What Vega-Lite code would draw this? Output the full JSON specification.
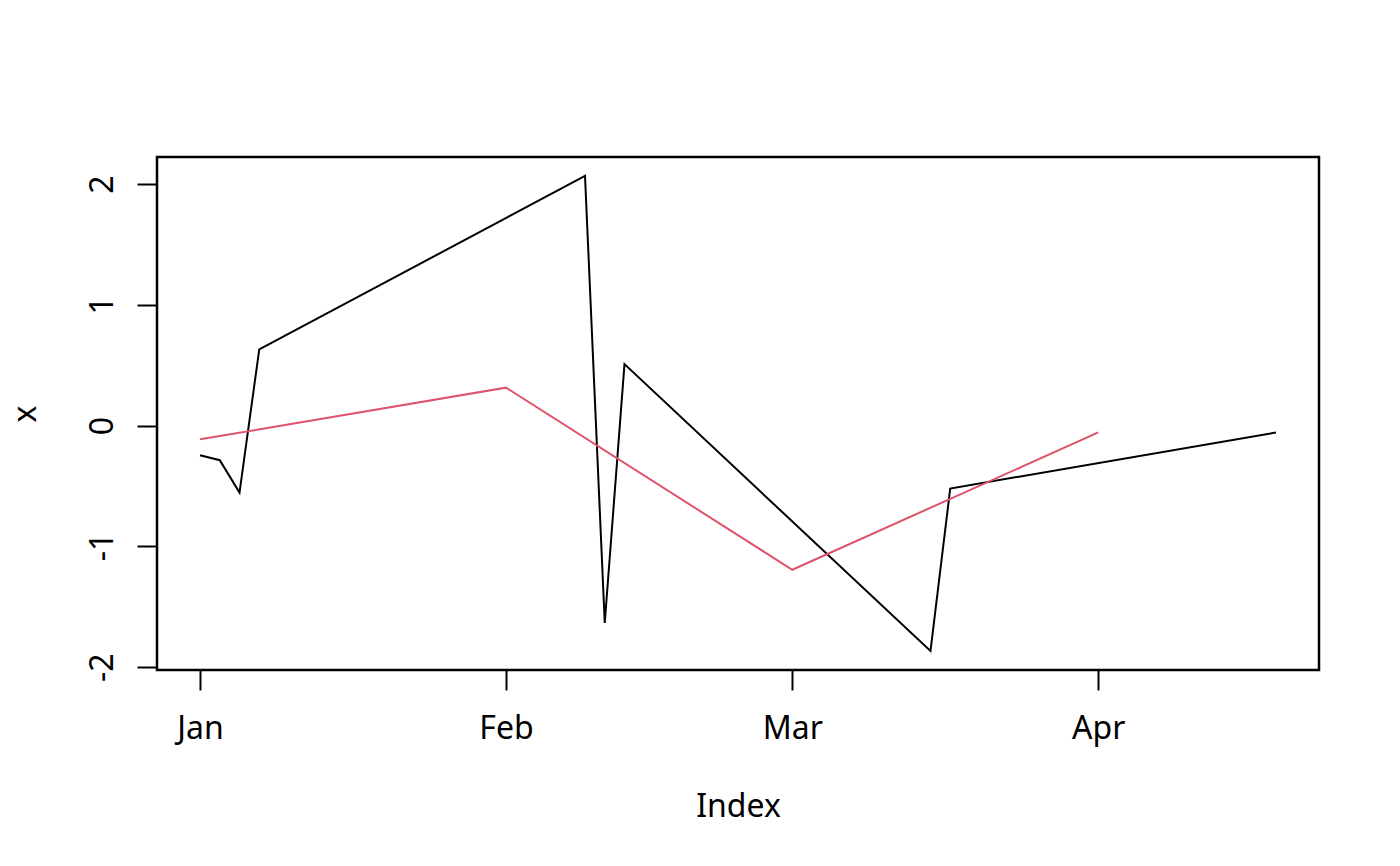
{
  "$schema": "https://vega.github.io/schema/vega-lite/v6.json",
  "description": "Daily series x with its monthly means, R base-graphics style",
  "width": 1162,
  "height": 513,
  "autosize": {"type": "none"},
  "padding": {"left": 157, "top": 157, "right": 81, "bottom": 196},
  "background": "white",
  "data": {
    "values": [
      {"date": "2020-01-01", "value": -0.245, "series": "x"},
      {"date": "2020-01-03", "value": -0.286, "series": "x"},
      {"date": "2020-01-05", "value": -0.554, "series": "x"},
      {"date": "2020-01-07", "value": 0.632, "series": "x"},
      {"date": "2020-02-09", "value": 2.068, "series": "x"},
      {"date": "2020-02-11", "value": -1.634, "series": "x"},
      {"date": "2020-02-13", "value": 0.51, "series": "x"},
      {"date": "2020-03-15", "value": -1.866, "series": "x"},
      {"date": "2020-03-17", "value": -0.52, "series": "x"},
      {"date": "2020-04-19", "value": -0.056, "series": "x"},
      {"date": "2020-01-01", "value": -0.113, "series": "monthly"},
      {"date": "2020-02-01", "value": 0.315, "series": "monthly"},
      {"date": "2020-03-01", "value": -1.193, "series": "monthly"},
      {"date": "2020-04-01", "value": -0.056, "series": "monthly"}
    ]
  },
  "mark": {"type": "line", "strokeWidth": 2},
  "encoding": {
    "x": {
      "field": "date",
      "type": "temporal",
      "scale": {
        "type": "utc",
        "domain": [
          {"year": 2019, "month": 12, "date": 27, "hours": 15, "minutes": 22, "utc": true},
          {"year": 2020, "month": 4, "date": 23, "hours": 8, "minutes": 38, "utc": true}
        ],
        "nice": false
      },
      "axis": {
        "title": "Index",
        "values": [
          {"year": 2020, "month": 1, "date": 1, "utc": true},
          {"year": 2020, "month": 2, "date": 1, "utc": true},
          {"year": 2020, "month": 3, "date": 1, "utc": true},
          {"year": 2020, "month": 4, "date": 1, "utc": true}
        ],
        "labelExpr": "utcFormat(datum.value, '%b')",
        "labelBaseline": "alphabetic",
        "labelAlign": "center",
        "labelPadding": 48,
        "titleX": 581,
        "titleY": 146,
        "titleAlign": "center",
        "titleBaseline": "alphabetic"
      }
    },
    "y": {
      "field": "value",
      "type": "quantitative",
      "scale": {"domain": [-2.023, 2.225], "nice": false, "zero": false},
      "axis": {
        "title": "x",
        "values": [-2, -1, 0, 1, 2],
        "labelExpr": "'' + datum.value",
        "labelAngle": 270,
        "labelAlign": "center",
        "labelBaseline": "alphabetic",
        "labelPadding": 25,
        "titleAngle": 270,
        "titleX": -122,
        "titleY": 256.5,
        "titleAlign": "center",
        "titleBaseline": "alphabetic"
      }
    },
    "color": {
      "field": "series",
      "type": "nominal",
      "scale": {"domain": ["x", "monthly"], "range": ["black", "#DF536B"]},
      "legend": null
    }
  },
  "config": {
    "view": {"stroke": "black", "strokeWidth": 2.5},
    "axis": {
      "domain": false,
      "grid": false,
      "ticks": true,
      "tickSize": 20,
      "tickWidth": 2,
      "tickColor": "black",
      "labelFont": "Noto Sans",
      "labelFontSize": 32,
      "labelColor": "black",
      "labelFlush": false,
      "labelOverlap": false,
      "titleFont": "Noto Sans",
      "titleFontSize": 32,
      "titleFontWeight": "normal",
      "titleColor": "black"
    }
  }
}
